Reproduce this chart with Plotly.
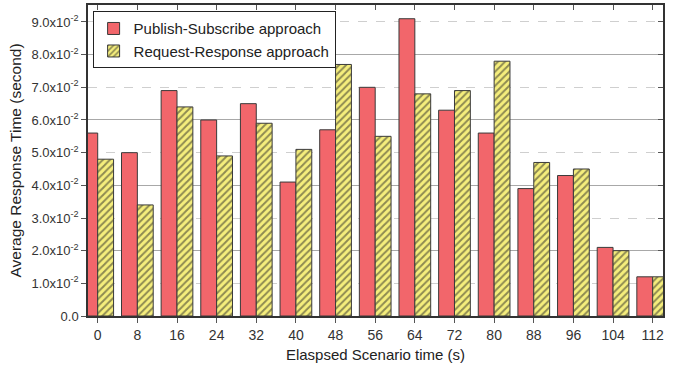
import plotly.graph_objects as go

times = [0, 8, 16, 24, 32, 40, 48, 56, 64, 72, 80, 88, 96, 104, 112]
pub_sub = [0.056, 0.050, 0.069, 0.060, 0.065, 0.041, 0.057, 0.070, 0.091, 0.063,
           0.056, 0.039, 0.043, 0.021, 0.012]
req_resp = [0.048, 0.034, 0.064, 0.049, 0.059, 0.051, 0.077, 0.055, 0.068, 0.069,
            0.078, 0.047, 0.045, 0.020, 0.012]
y_ticks = [0.0, 0.01, 0.02, 0.03, 0.04, 0.05, 0.06, 0.07, 0.08, 0.09]
y_ticktext = ["0.0"] + [f"{v*100:.1f}x10<sup>-2</sup>" for v in y_ticks[1:]]

FONT = "Liberation Sans, Arial, sans-serif"
XR = [-1.96, 114.08]
YR = [0, 0.0952]

fig = go.Figure()
fig.add_trace(go.Bar(
    x=times, y=pub_sub, name="Publish-Subscribe approach",
    marker=dict(color="#F2666B", line=dict(color="#3a3a3a", width=1)),
))
fig.add_trace(go.Bar(
    x=times, y=req_resp, name="Request-Response approach",
    marker=dict(color="#F5EE7C", line=dict(color="#3a3a3a", width=1),
                pattern=dict(shape="/", fgcolor="#262626", bgcolor="#F5EE7C",
                             size=5, solidity=0.4)),
))
# invisible trace to anchor the mirrored axes
fig.add_trace(go.Scatter(x=[times[0]], y=[0], xaxis="x2", yaxis="y2",
                         mode="markers", marker=dict(opacity=0),
                         showlegend=False, hoverinfo="skip"))

fig.update_layout(
    width=675, height=366,
    margin=dict(l=88, r=12, t=5, b=47),
    paper_bgcolor="white", plot_bgcolor="white",
    barmode="group", bargap=0.2, bargroupgap=0,
    font=dict(family=FONT, color="#222"),
    showlegend=True,
    legend=dict(x=0.008, y=0.98, xanchor="left", yanchor="top",
                bgcolor="white", bordercolor="#222", borderwidth=1,
                font=dict(size=15, family=FONT, color="#222"),
                tracegroupgap=0, itemwidth=30),
    xaxis=dict(range=XR, tickmode="array", tickvals=times,
               ticks="outside", ticklen=5, tickcolor="#555",
               showline=True, linecolor="#333", linewidth=1.5,
               showgrid=False, zeroline=False,
               tickfont=dict(size=14, family=FONT, color="#333"),
               title=dict(text="Elaspsed Scenario time (s)",
                          font=dict(size=15, family=FONT, color="#222"),
                          standoff=8)),
    yaxis=dict(range=YR, tickmode="array", tickvals=y_ticks, ticktext=y_ticktext,
               ticks="outside", ticklen=5, tickcolor="#555",
               showline=True, linecolor="#333", linewidth=1.5,
               showgrid=False, zeroline=False,
               tickfont=dict(size=13, family=FONT, color="#333"),
               title=dict(text="Average Response Time (second)",
                          font=dict(size=15.5, family=FONT, color="#222"),
                          standoff=6)),
    xaxis2=dict(range=XR, overlaying="x", side="top", anchor="y",
                tickmode="array", tickvals=times, ticks="inside", ticklen=5,
                tickcolor="#555", showticklabels=False,
                showline=True, linecolor="#333", linewidth=1.5,
                showgrid=False, zeroline=False),
    yaxis2=dict(range=YR, overlaying="y", side="right", anchor="x",
                tickmode="array", tickvals=[0.02, 0.04, 0.06, 0.08],
                ticks="inside", ticklen=5, tickcolor="#555",
                showticklabels=False,
                showline=True, linecolor="#333", linewidth=1.5,
                showgrid=True, gridcolor="#a8a8a8", gridwidth=1,
                zeroline=False, layer="below traces",
                minor=dict(tickmode="array", tickvals=[0.01, 0.03, 0.05, 0.07, 0.09],
                           ticks="inside", ticklen=5, tickcolor="#555",
                           showgrid=True, gridcolor="#cfcfcf", griddash="dash",
                           gridwidth=1)),
)

fig.write_html("out.html", config={"displayModeBar": False},
               post_script="document.body.style.margin='0px';")
